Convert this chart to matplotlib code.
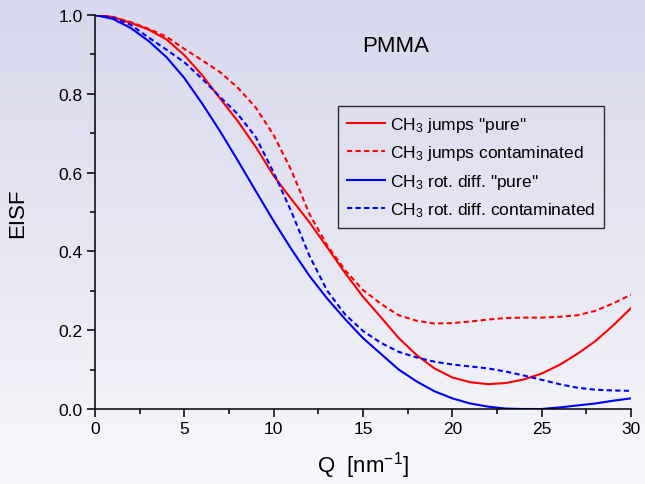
import numpy as np
import matplotlib
matplotlib.use("Agg")
import matplotlib.pyplot as plt
from matplotlib.colors import LinearSegmentedColormap

plt.rcParams['font.family'] = ['Liberation Sans', 'DejaVu Sans']
plt.rcParams['mathtext.fontset'] = 'custom'
plt.rcParams['mathtext.rm'] = 'Liberation Sans'
plt.rcParams['mathtext.it'] = 'Liberation Sans'
plt.rcParams['mathtext.default'] = 'regular'

# ---- data ----
q = list(range(0, 31))
jumps_pure = [1.0, 0.995, 0.98, 0.963, 0.938, 0.898, 0.847, 0.788, 0.73, 0.665, 0.592,
              0.532, 0.474, 0.41, 0.345, 0.285, 0.233, 0.18, 0.137, 0.103, 0.08,
              0.068, 0.063, 0.066, 0.075, 0.09, 0.112, 0.14, 0.172, 0.212, 0.256]
jumps_cont = [1.0, 0.995, 0.982, 0.965, 0.945, 0.914, 0.885, 0.855, 0.815, 0.765, 0.695,
              0.605, 0.495, 0.415, 0.352, 0.302, 0.267, 0.238, 0.224, 0.217, 0.218,
              0.222, 0.227, 0.231, 0.232, 0.232, 0.234, 0.238, 0.249, 0.268, 0.29]
rot_pure = [1.0, 0.99, 0.967, 0.934, 0.893, 0.84, 0.775, 0.705, 0.63, 0.553, 0.477,
            0.405, 0.338, 0.28, 0.228, 0.18, 0.14, 0.10, 0.07, 0.045, 0.027,
            0.014, 0.006, 0.001, 0.0, 0.0, 0.004, 0.009, 0.014, 0.021, 0.027]
rot_cont = [1.0, 0.993, 0.975, 0.943, 0.912, 0.88, 0.838, 0.792, 0.748, 0.69, 0.60,
            0.50, 0.389, 0.30, 0.24, 0.198, 0.168, 0.145, 0.131, 0.12, 0.113,
            0.108, 0.103, 0.095, 0.085, 0.074, 0.063, 0.054, 0.049, 0.047, 0.046]

labels = ['CH$_3$ jumps "pure"', 'CH$_3$ jumps contaminated',
          'CH$_3$ rot. diff. "pure"', 'CH$_3$ rot. diff. contaminated']
xticks = [0, 5, 10, 15, 20, 25, 30]
yticks = [0.0, 0.2, 0.4, 0.6, 0.8, 1.0]

W, H = 645, 485
fig = plt.figure(figsize=(W / 100, H / 100), dpi=100)

# gradient background
bg = fig.add_axes([0, 0, 1, 1], zorder=-10)
cmap = LinearSegmentedColormap.from_list('bg', ['#d8d8ee', '#e6e6f3', '#f8f8fc'])
grad = np.linspace(0, 1, 256).reshape(-1, 1)
bg.imshow(grad, aspect='auto', cmap=cmap, extent=[0, 1, 0, 1], origin='upper')
bg.axis('off')

ax = fig.add_axes([95 / W, 1 - 410 / H, (631 - 95) / W, (410 - 16) / H])
ax.set_facecolor('none')

lw = 1.5
ax.plot(q, jumps_pure, color='#ff0000', lw=lw, label=labels[0])
ax.plot(q, jumps_cont, color='#ff0000', lw=lw, ls=(0, (2.5, 1.6)), label=labels[1])
ax.plot(q, rot_pure, color='#0000ff', lw=lw, label=labels[2])
ax.plot(q, rot_cont, color='#0000ff', lw=lw, ls=(0, (2.5, 1.6)), label=labels[3])

ax.set_xlim(0, 30)
ax.set_ylim(0, 1.0)
ax.set_xticks(xticks)
ax.set_yticks(yticks)
ax.set_xticklabels([str(v) for v in xticks])
ax.set_yticklabels([f"{v:.1f}" for v in yticks])
ax.set_xticks(np.arange(0, 30.1, 2.5), minor=True)
ax.set_yticks(np.arange(0, 1.01, 0.1), minor=True)

for s in ['top', 'right']:
    ax.spines[s].set_visible(False)
for s in ['left', 'bottom']:
    ax.spines[s].set_linewidth(1.1)
    ax.spines[s].set_color('black')
ax.tick_params(which='major', direction='out', length=6, width=1.1, labelsize=12.5, pad=3)
ax.tick_params(which='minor', direction='out', length=3.5, width=1.1)

ax.set_xlabel('Q  [nm$^{-1}$]', fontsize=16, labelpad=9)
ax.set_ylabel('EISF', fontsize=16, labelpad=22)

ax.text(362, H - 52, 'PMMA', transform=None, fontsize=16)

leg = ax.legend(loc='upper left', bbox_to_anchor=(338 / W, 1 - 107 / H),
                bbox_transform=fig.transFigure, borderaxespad=0,
                fontsize=12.5, frameon=True, fancybox=False, handlelength=2.2,
                handletextpad=0.3, labelspacing=0.55, borderpad=0.5)
leg.get_frame().set_edgecolor('black')
leg.get_frame().set_facecolor('none')
leg.get_frame().set_linewidth(1.0)

fig.savefig('out.png', dpi=100)
